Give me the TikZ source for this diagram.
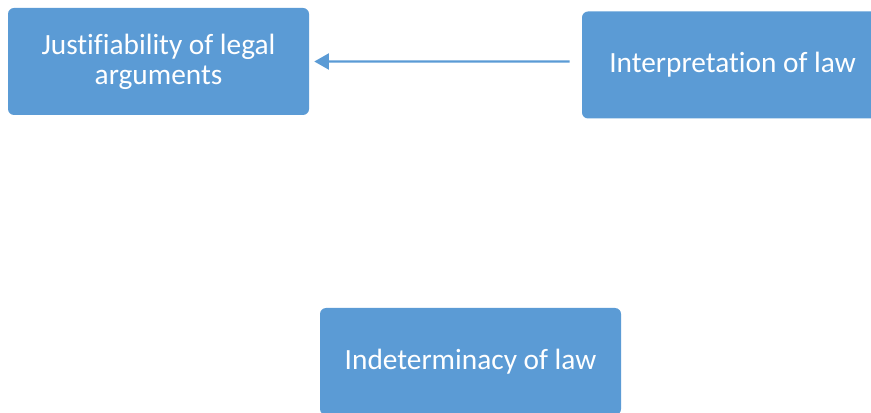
\documentclass[tikz,border=0pt]{standalone}
\usepackage{fontspec}
\setmainfont[Ligatures=NoCommon]{Carlito}
\usepackage{tikz}
\usetikzlibrary{arrows.meta}

\definecolor{boxblue}{RGB}{91,155,213}

\begin{document}
\begin{tikzpicture}[
            x = 0.75pt, y = -0.75pt, % one unit is one pixel
            box/.style = {rectangle, rounded corners = 4.5pt, fill = boxblue,
                text = white, align = center, inner sep = 0pt,
                minimum width = 225.75pt, minimum height = 80.25pt,
                font = \fontsize{22}{22.5}\selectfont},
            link/.style = {draw = boxblue, line width = 1.6pt,
                -{Triangle[length = 11pt, width = 12pt]}}
        ]
    \useasboundingbox (0,0) rectangle (871,413);
    \clip (0,0) rectangle (871,413);

    \node[box] (justify) at (158.5,61.5) {Justifiability of legal\\arguments};
    \node[box] (interp) at (732.5,65) {Interpretation of law};
    \node[box] (indet) at (470.5,361.5) {Indeterminacy of law};

    \draw[link, shorten < = 9pt, shorten > = 3.75pt] ([yshift=2.6pt]interp.west) -- (justify.east);

\end{tikzpicture}
\end{document}
